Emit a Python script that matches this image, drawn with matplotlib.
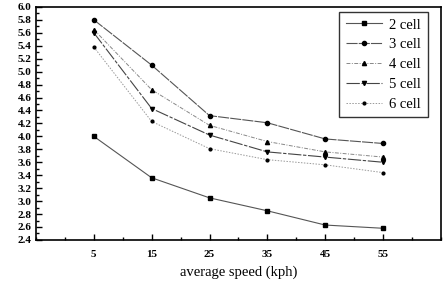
import numpy as np
import matplotlib.pyplot as plt
from matplotlib.ticker import MultipleLocator

plt.rcParams['font.family'] = ['Liberation Serif', 'DejaVu Serif']

# average speed (kph)
speed = [5, 15, 25, 35, 45, 55]

cell2 = [4.00, 3.36, 3.05, 2.85, 2.63, 2.58]
cell3 = [5.80, 5.10, 4.32, 4.21, 3.96, 3.89]
cell4 = [5.65, 4.72, 4.17, 3.92, 3.76, 3.68]
cell5 = [5.60, 4.43, 4.02, 3.76, 3.68, 3.60]
cell6 = [5.38, 4.23, 3.81, 3.64, 3.56, 3.44]

labels = ['2 cell', '3 cell', '4 cell', '5 cell', '6 cell']

fig = plt.figure(figsize=(4.44, 2.87), dpi=100)
ax = fig.add_axes([0.081, 0.164, 0.912, 0.812])

ax.plot(speed, cell2, color='#555555', lw=0.8, ls='-', marker='s', ms=3, mfc='k', mec='k', label=labels[0])
ax.plot(speed, cell3, color='#555555', lw=0.8, ls=(0, (10, 1)), marker='o', ms=3, mfc='k', mec='k', label=labels[1])
ax.plot(speed, cell4, color='#888888', lw=0.7, ls=(0, (4, 1.5, 1, 1.5)), marker='^', ms=3, mfc='k', mec='k', label=labels[2])
ax.plot(speed, cell5, color='#444444', lw=0.8, ls=(0, (12, 1.5, 3, 1.5)), marker='v', ms=3, mfc='k', mec='k', label=labels[3])
ax.plot(speed, cell6, color='#999999', lw=0.7, ls=(0, (1.5, 1.5)), marker='o', ms=2, mfc='k', mec='k', label=labels[4])

ax.set_xlim(-5, 65)
ax.set_ylim(2.4, 6.0)
ax.set_xticks([5, 15, 25, 35, 45, 55])
ax.xaxis.set_minor_locator(MultipleLocator(5))
ax.yaxis.set_major_locator(MultipleLocator(0.2))
ax.yaxis.set_minor_locator(MultipleLocator(0.1))
ax.set_yticklabels([f'{v:.1f}' for v in ax.get_yticks()])

ax.tick_params(axis='both', which='major', direction='in', length=4, width=1, labelsize=8, pad=3)
ax.tick_params(axis='both', which='minor', direction='in', length=2.5, width=1)
ax.tick_params(axis='x', pad=7)
for lab in ax.get_xticklabels() + ax.get_yticklabels():
    lab.set_fontweight('bold')
for sp in ax.spines.values():
    sp.set_linewidth(1.2)

ax.set_xlabel('average speed (kph)', fontsize=10.5, labelpad=5)

leg = ax.legend(loc='upper right', fontsize=10.5, frameon=True, fancybox=False,
                edgecolor='k', handlelength=2.5, handletextpad=0.5, labelspacing=0.45,
                borderpad=0.45, borderaxespad=0, bbox_to_anchor=(0.968, 0.979))
leg.get_frame().set_linewidth(1.0)

fig.savefig('out.png', dpi=100)
